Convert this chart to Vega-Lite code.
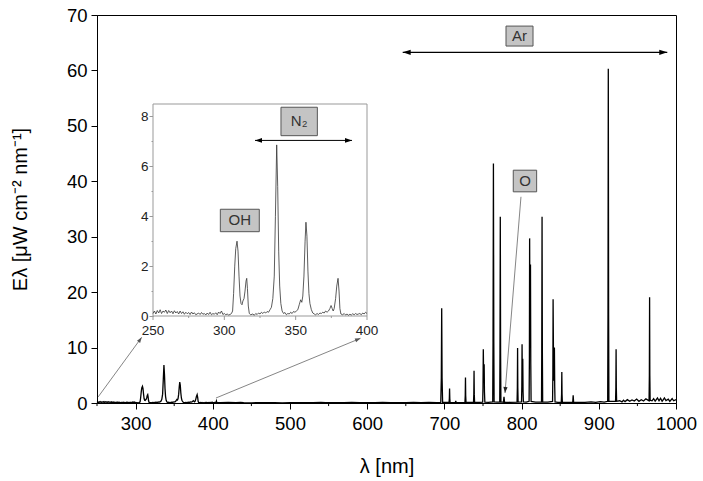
{
  "$schema": "https://vega.github.io/schema/vega-lite/v6.json",
  "width": 579,
  "height": 388,
  "autosize": {"type": "none"},
  "padding": {"left": 97, "top": 15, "right": 27, "bottom": 78},
  "background": "white",
  "config": {
    "font": "Liberation Sans",
    "view": {"stroke": "black", "strokeWidth": 1},
    "axis": {"grid": false, "labelOverlap": false, "domainColor": "black", "tickColor": "black", "labelColor": "black", "titleColor": "black", "titleFontWeight": "normal"}
  },
  "datasets": {
    "spec": [
      {"l":250,"e":0.1},{"l":251,"e":0.2},{"l":252,"e":0.08},{"l":253,"e":0.22},{"l":254,"e":0.12},{"l":255,"e":0.25},{"l":256,"e":0.1},{"l":257,"e":0.2},{"l":258,"e":0.15},{"l":259,"e":0.24},{"l":260,"e":0.1},{"l":261,"e":0.22},{"l":262,"e":0.13},{"l":263,"e":0.2},{"l":264,"e":0.09},{"l":265,"e":0.21},{"l":266,"e":0.12},{"l":267,"e":0.18},{"l":268,"e":0.08},{"l":269,"e":0.2},{"l":270,"e":0.1},{"l":271,"e":0.17},{"l":272,"e":0.07},{"l":273,"e":0.15},{"l":274,"e":0.09},{"l":275,"e":0.14},{"l":276,"e":0.06},{"l":277,"e":0.16},{"l":278,"e":0.08},{"l":279,"e":0.13},{"l":280,"e":0.05},{"l":282,"e":0.12},{"l":283,"e":0.06},{"l":284,"e":0.14},{"l":285,"e":0.07},{"l":286,"e":0.1},{"l":287,"e":0.04},{"l":288,"e":0.12},{"l":289,"e":0.06},{"l":290,"e":0.15},{"l":291,"e":0.05},{"l":292,"e":0.1},{"l":293,"e":0.07},{"l":294,"e":0.13},{"l":295,"e":0.05},{"l":296,"e":0.16},{"l":297,"e":0.1},{"l":298,"e":0.2},{"l":299,"e":0.06},{"l":300,"e":0.1},{"l":301,"e":0.05},{"l":302,"e":0.08},{"l":303,"e":0.04},{"l":304,"e":0.06},{"l":305,"e":0.1},
      {"l":305.8,"e":0.2},{"l":306.5,"e":0.9},{"l":307.3,"e":2.0},{"l":308,"e":2.7},{"l":308.9,"e":3.0},{"l":309.6,"e":2.6},{"l":310.3,"e":1.6},{"l":311,"e":0.8},{"l":311.7,"e":0.5},{"l":312.4,"e":0.45},{"l":313,"e":0.6},{"l":313.8,"e":0.7},{"l":314.5,"e":1.0},{"l":315.2,"e":1.4},{"l":315.7,"e":1.51},{"l":316.2,"e":1.1},{"l":316.8,"e":0.4},{"l":317.5,"e":0.1},{"l":318.5,"e":0.05},
      {"l":320,"e":0.08},{"l":321,"e":0.03},{"l":322,"e":0.1},{"l":323,"e":0.06},{"l":324,"e":0.12},{"l":325,"e":0.08},{"l":326,"e":0.15},{"l":327,"e":0.1},{"l":328,"e":0.16},{"l":329,"e":0.12},{"l":330,"e":0.18},{"l":331,"e":0.15},{"l":332,"e":0.25},{"l":333,"e":0.35},{"l":334,"e":0.7},{"l":335,"e":1.6},{"l":335.8,"e":4.0},{"l":336.7,"e":6.86},{"l":337.4,"e":5.2},{"l":338.1,"e":2.6},{"l":338.8,"e":1.2},{"l":339.6,"e":0.5},{"l":340.5,"e":0.2},{"l":341.5,"e":0.1},{"l":342.5,"e":0.14},{"l":343.5,"e":0.05},{"l":344.5,"e":0.1},{"l":345.5,"e":0.08},{"l":346.5,"e":0.15},{"l":347.5,"e":0.1},{"l":348.5,"e":0.18},{"l":349.5,"e":0.15},{"l":350.5,"e":0.2},{"l":351.5,"e":0.25},{"l":352.5,"e":0.45},{"l":353.5,"e":0.65},{"l":354.3,"e":0.55},{"l":355,"e":0.8},{"l":355.8,"e":1.6},{"l":356.6,"e":3.0},{"l":357.2,"e":3.76},{"l":357.9,"e":3.2},{"l":358.6,"e":1.8},{"l":359.3,"e":0.9},{"l":360,"e":0.5},{"l":361,"e":0.25},{"l":362,"e":0.12},{"l":363,"e":0.08},{"l":364,"e":0.05},{"l":365,"e":0.1},{"l":366,"e":0.06},{"l":367,"e":0.12},{"l":368,"e":0.1},{"l":369,"e":0.15},{"l":370,"e":0.12},{"l":371,"e":0.2},{"l":372,"e":0.15},{"l":373,"e":0.2},{"l":374,"e":0.3},{"l":374.8,"e":0.42},{"l":375.6,"e":0.3},{"l":376.3,"e":0.2},{"l":377,"e":0.3},{"l":378,"e":0.7},{"l":378.8,"e":1.2},{"l":379.7,"e":1.51},{"l":380.4,"e":1.0},{"l":381,"e":0.3},{"l":381.7,"e":0.08},{"l":383,"e":0.05},{"l":384,"e":0.1},{"l":385,"e":0.04},{"l":386,"e":0.08},{"l":387,"e":0.03},{"l":388,"e":0.07},{"l":389,"e":0.04},{"l":390,"e":0.09},{"l":391,"e":0.05},{"l":392,"e":0.1},{"l":393,"e":0.06},{"l":394,"e":0.08},{"l":395,"e":0.1},{"l":396,"e":0.05},{"l":397,"e":0.12},{"l":398,"e":0.08},{"l":399,"e":0.15},{"l":400,"e":0.1},
      {"l":401,"e":0.08},{"l":403,"e":0.1},{"l":404.2,"e":0.1},{"l":404.7,"e":0.35},{"l":405.2,"e":0.08},{"l":410,"e":0.05},{"l":420,"e":0.1},{"l":430,"e":0.05},{"l":435.8,"e":0.1},{"l":440,"e":0.06},{"l":450,"e":0.04},{"l":460,"e":0.07},{"l":470,"e":0.05},{"l":480,"e":0.08},{"l":490,"e":0.04},{"l":500,"e":0.07},{"l":510,"e":0.05},{"l":520,"e":0.08},{"l":530,"e":0.06},{"l":540,"e":0.1},{"l":546,"e":0.08},{"l":550,"e":0.05},{"l":560,"e":0.08},{"l":570,"e":0.05},{"l":580,"e":0.1},{"l":590,"e":0.06},{"l":600,"e":0.08},{"l":610,"e":0.05},{"l":620,"e":0.1},{"l":630,"e":0.06},{"l":640,"e":0.08},{"l":650,"e":0.05},{"l":660,"e":0.1},{"l":670,"e":0.06},{"l":680,"e":0.1},{"l":690,"e":0.08},
      {"l":695.3,"e":0.1},{"l":696.0,"e":4.5},{"l":696.5,"e":17.1},{"l":697.0,"e":4.5},{"l":697.7,"e":0.1},{"l":702,"e":0.1},
      {"l":706.0,"e":0.1},{"l":706.4,"e":0.8},{"l":706.7,"e":2.6},{"l":707.0,"e":0.8},{"l":707.4,"e":0.1},{"l":711,"e":0.08},
      {"l":714.2,"e":0.1},{"l":714.7,"e":0.4},{"l":715.2,"e":0.1},{"l":720,"e":0.08},
      {"l":726.6,"e":0.1},{"l":727.0,"e":1.3},{"l":727.3,"e":4.6},{"l":727.6,"e":1.3},{"l":728.0,"e":0.1},{"l":733,"e":0.1},
      {"l":737.7,"e":0.1},{"l":738.1,"e":1.6},{"l":738.4,"e":5.8},{"l":738.7,"e":1.6},{"l":739.1,"e":0.1},{"l":745,"e":0.1},
      {"l":749.6,"e":0.15},{"l":750.0,"e":2.8},{"l":750.4,"e":9.7},{"l":750.9,"e":4.0},{"l":751.5,"e":7.0},{"l":751.9,"e":2.0},{"l":752.4,"e":0.15},{"l":757,"e":0.12},
      {"l":762.6,"e":0.2},{"l":763.0,"e":11},{"l":763.5,"e":43.2},{"l":764.0,"e":11},{"l":764.4,"e":0.2},{"l":768,"e":0.15},
      {"l":771.7,"e":0.2},{"l":772.0,"e":9},{"l":772.4,"e":33.6},{"l":772.8,"e":9},{"l":773.2,"e":0.2},
      {"l":776.5,"e":0.15},{"l":777.2,"e":1.1},{"l":777.9,"e":0.15},{"l":785,"e":0.12},
      {"l":794.1,"e":0.15},{"l":794.5,"e":2.7},{"l":794.8,"e":9.9},{"l":795.1,"e":2.7},{"l":795.5,"e":0.15},
      {"l":799.9,"e":0.2},{"l":800.3,"e":3.0},{"l":800.6,"e":10.6},{"l":801.0,"e":4.0},{"l":801.5,"e":8.0},{"l":801.9,"e":2.0},{"l":802.3,"e":0.2},{"l":806,"e":0.15},
      {"l":809.7,"e":0.3},{"l":810.1,"e":8.0},{"l":810.4,"e":29.7},{"l":810.9,"e":10},{"l":811.5,"e":25},{"l":811.9,"e":7},{"l":812.3,"e":0.3},{"l":818,"e":0.15},
      {"l":825.8,"e":0.2},{"l":826.1,"e":9},{"l":826.5,"e":33.6},{"l":826.9,"e":9},{"l":827.3,"e":0.2},{"l":834,"e":0.15},
      {"l":840.1,"e":0.3},{"l":840.5,"e":5},{"l":840.8,"e":18.7},{"l":841.5,"e":4},{"l":842.5,"e":10},{"l":842.9,"e":3},{"l":843.3,"e":0.2},{"l":847,"e":0.12},
      {"l":851.4,"e":0.15},{"l":851.8,"e":1.6},{"l":852.1,"e":5.6},{"l":852.4,"e":1.6},{"l":852.8,"e":0.15},{"l":860,"e":0.1},
      {"l":866.2,"e":0.1},{"l":866.8,"e":1.4},{"l":867.4,"e":0.1},
      {"l":875,"e":0.12},{"l":882,"e":0.1},{"l":890,"e":0.2},{"l":896,"e":0.12},{"l":902,"e":0.25},{"l":907,"e":0.15},
      {"l":911.5,"e":0.3},{"l":911.9,"e":16},{"l":912.3,"e":60.3},{"l":912.7,"e":16},{"l":913.1,"e":0.3},{"l":917,"e":0.3},
      {"l":921.7,"e":0.3},{"l":922.1,"e":2.7},{"l":922.4,"e":9.7},{"l":922.7,"e":2.7},{"l":923.1,"e":0.3},
      {"l":927,"e":0.4},{"l":930,"e":0.2},{"l":932,"e":0.5},{"l":934,"e":0.25},{"l":937,"e":0.6},{"l":940,"e":0.3},{"l":943,"e":0.55},{"l":946,"e":0.35},{"l":949,"e":0.7},{"l":952,"e":0.3},{"l":955,"e":0.6},{"l":958,"e":0.35},{"l":961,"e":0.75},
      {"l":965.1,"e":0.4},{"l":965.5,"e":5},{"l":965.8,"e":19.1},{"l":966.1,"e":5},{"l":966.5,"e":0.5},
      {"l":969,"e":0.4},{"l":971,"e":0.8},{"l":973,"e":0.35},{"l":976,"e":0.9},{"l":978,"e":0.4},{"l":980,"e":0.85},{"l":982,"e":0.3},{"l":985,"e":0.9},{"l":987,"e":0.45},{"l":990,"e":0.7},{"l":992,"e":0.3},{"l":995,"e":0.8},{"l":997,"e":0.4},{"l":1000,"e":0.6}
    ],
    "mainBoxes": [
      {"x1":779.8,"x2":814.8,"y1":64.4,"y2":68.0,"t":"Ar","cx":797.3,"cy":66.2},
      {"x1":789.2,"x2":819.5,"y1":38.1,"y2":42.0,"t":"O","cx":804.35,"cy":40.05}
    ],
    "insetBoxes": [
      {"x1":297.2,"x2":324.5,"y1":3.38,"y2":4.28,"t":"OH","cx":310.85,"cy":3.83},
      {"x1":339.7,"x2":365.2,"y1":7.23,"y2":8.37,"t":"N₂","cx":352.45,"cy":7.8}
    ],
    "mainMinorX": [{"l":250},{"l":350},{"l":450},{"l":550},{"l":650},{"l":750},{"l":850},{"l":950}],
    "insetMajor": [{"l":250},{"l":300},{"l":350},{"l":400}],
    "insetMinor": [{"l":275},{"l":325},{"l":375}]
  },
  "layer": [
    {
      "layer": [
        {
          "data": {"name": "spec"},
          "mark": {"type": "line", "color": "black", "strokeWidth": 1.3},
          "encoding": {
            "x": {"field": "l", "type": "quantitative", "scale": {"domain": [250, 1000], "nice": false, "zero": false},
              "axis": {"orient": "bottom", "values": [300,400,500,600,700,800,900,1000],
                "tickSize": 6, "format": "d", "labelFontSize": 18.5, "labelPadding": 5, "labelFlush": false, "labelOverlap": false,
                "title": "λ [nm]", "titleFontSize": 20, "titlePadding": 24}},
            "y": {"field": "e", "type": "quantitative", "scale": {"domain": [0, 70], "nice": false, "zero": false},
              "axis": {"orient": "left", "values": [0,5,10,15,20,25,30,35,40,45,50,55,60,65,70],
                "labelExpr": "datum.value % 10 === 0 ? datum.label : ''",
                "tickSize": {"condition": {"test": "datum.value % 10 !== 0", "value": 3}, "value": 6},
                "format": "d", "labelFontSize": 18.5, "labelPadding": 4, "labelFlush": false, "labelOverlap": false,
                "title": "Eλ [μW cm⁻² nm⁻¹]", "titleFontSize": 20, "titlePadding": 36}}
          }
        },
        {
          "data": {"name": "mainMinorX"},
          "mark": {"type": "rule", "color": "black", "strokeWidth": 1},
          "encoding": {"x": {"field": "l", "type": "quantitative"}, "y": {"datum": 0, "type": "quantitative"}, "y2": {"datum": -0.55}}
        },
        {
          "data": {"values": [{"x1":646,"y1":63.27,"x2":988.7,"y2":63.27}]},
          "mark": {"type": "rule", "color": "black", "strokeWidth": 1.2},
          "encoding": {"x": {"field": "x1", "type": "quantitative"}, "y": {"field": "y1", "type": "quantitative"}, "x2": {"field": "x2"}, "y2": {"field": "y2"}}
        },
        {
          "data": {"values": [{"x1":251.5,"y1":1.1,"x2":307.9,"y2":11.85},{"x1":404.1,"y1":0.9,"x2":591.3,"y2":11.67},{"x1":799.2,"y1":37.2,"x2":778.5,"y2":1.8}]},
          "mark": {"type": "rule", "color": "#777777", "strokeWidth": 0.9},
          "encoding": {"x": {"field": "x1", "type": "quantitative"}, "y": {"field": "y1", "type": "quantitative"}, "x2": {"field": "x2"}, "y2": {"field": "y2"}}
        },
        {
          "data": {"values": [{"l":646,"e":63.27}]},
          "mark": {"type": "point", "shape": "M0,0L-1,-0.33L-1,0.33Z", "filled": true, "size": 256, "angle": 180, "color": "black", "opacity": 1},
          "encoding": {"x": {"field": "l", "type": "quantitative"}, "y": {"field": "e", "type": "quantitative"}}
        },
        {
          "data": {"values": [{"l":988.7,"e":63.27}]},
          "mark": {"type": "point", "shape": "M0,0L-1,-0.33L-1,0.33Z", "filled": true, "size": 256, "angle": 0, "color": "black", "opacity": 1},
          "encoding": {"x": {"field": "l", "type": "quantitative"}, "y": {"field": "e", "type": "quantitative"}}
        },
        {
          "data": {"values": [{"l":307.9,"e":11.85}]},
          "mark": {"type": "point", "shape": "M0,0L-1,-0.35L-1,0.35Z", "filled": true, "size": 121, "angle": -55.2, "color": "#555555", "opacity": 1},
          "encoding": {"x": {"field": "l", "type": "quantitative"}, "y": {"field": "e", "type": "quantitative"}}
        },
        {
          "data": {"values": [{"l":591.3,"e":11.67}]},
          "mark": {"type": "point", "shape": "M0,0L-1,-0.35L-1,0.35Z", "filled": true, "size": 121, "angle": -22, "color": "#555555", "opacity": 1},
          "encoding": {"x": {"field": "l", "type": "quantitative"}, "y": {"field": "e", "type": "quantitative"}}
        },
        {
          "data": {"values": [{"l":778.5,"e":1.8}]},
          "mark": {"type": "point", "shape": "M0,0L-1,-0.35L-1,0.35Z", "filled": true, "size": 144, "angle": 94.6, "color": "#222222", "opacity": 1},
          "encoding": {"x": {"field": "l", "type": "quantitative"}, "y": {"field": "e", "type": "quantitative"}}
        },
        {
          "data": {"name": "mainBoxes"},
          "mark": {"type": "rect", "fill": "#c4c4c4", "stroke": "#555555", "strokeWidth": 1},
          "encoding": {"x": {"field": "x1", "type": "quantitative"}, "x2": {"field": "x2"}, "y": {"field": "y1", "type": "quantitative"}, "y2": {"field": "y2"}}
        },
        {
          "data": {"name": "mainBoxes"},
          "mark": {"type": "text", "fontSize": 15, "color": "#333333", "align": "center", "baseline": "middle"},
          "encoding": {"x": {"field": "cx", "type": "quantitative"}, "y": {"field": "cy", "type": "quantitative"}, "text": {"field": "t"}}
        }
      ]
    },
    {
      "layer": [
        {
          "data": {"values": [{"x1":250,"x2":400,"y1":0,"y2":8.5}]},
          "mark": {"type": "rect", "fill": "white", "stroke": "#999999", "strokeWidth": 1},
          "encoding": {
            "x": {"field": "x1", "type": "quantitative", "scale": {"domain": [250, 400], "range": [56, 270], "nice": false, "zero": false}, "axis": null},
            "x2": {"field": "x2"},
            "y": {"field": "y1", "type": "quantitative", "scale": {"domain": [0, 8.5], "range": [301, 89], "nice": false, "zero": false},
              "axis": {"orient": "left", "offset": -56, "values": [0,1,2,3,4,5,6,7,8],
                "labelExpr": "datum.value % 2 === 0 ? datum.label : ''",
                "tickSize": {"condition": {"test": "datum.value % 2 !== 0", "value": 2}, "value": 4},
                "format": "d", "labelFontSize": 13.5, "labelPadding": 1, "labelFlush": false, "labelOverlap": false,
                "domainColor": "#999999", "tickColor": "#999999", "labelColor": "#222222", "title": null}},
            "y2": {"field": "y2"}
          }
        },
        {
          "data": {"name": "insetMajor"},
          "mark": {"type": "rule", "color": "#999999", "strokeWidth": 1},
          "encoding": {"x": {"field": "l", "type": "quantitative", "axis": null}, "y": {"datum": 0, "type": "quantitative"}, "y2": {"datum": -0.16}}
        },
        {
          "data": {"name": "insetMinor"},
          "mark": {"type": "rule", "color": "#999999", "strokeWidth": 1},
          "encoding": {"x": {"field": "l", "type": "quantitative", "axis": null}, "y": {"datum": 0, "type": "quantitative"}, "y2": {"datum": -0.08}}
        },
        {
          "data": {"name": "insetMajor"},
          "mark": {"type": "text", "fontSize": 13.5, "color": "#222222", "align": "center", "baseline": "top", "dy": 8},
          "encoding": {"x": {"field": "l", "type": "quantitative", "axis": null}, "y": {"datum": 0, "type": "quantitative"}, "text": {"field": "l", "type": "quantitative", "format": "d"}}
        },
        {
          "data": {"name": "spec"},
          "transform": [{"filter": "datum.l <= 400"}],
          "mark": {"type": "line", "color": "#333333", "strokeWidth": 0.8},
          "encoding": {
            "x": {"field": "l", "type": "quantitative", "scale": {"domain": [250, 400], "range": [56, 270], "nice": false, "zero": false}, "axis": null},
            "y": {"field": "e", "type": "quantitative", "scale": {"domain": [0, 8.5], "range": [301, 89], "nice": false, "zero": false}}
          }
        },
        {
          "data": {"values": [{"x1":321.5,"y1":7.04,"x2":389.5,"y2":7.04}]},
          "mark": {"type": "rule", "color": "black", "strokeWidth": 1},
          "encoding": {"x": {"field": "x1", "type": "quantitative", "axis": null}, "y": {"field": "y1", "type": "quantitative"}, "x2": {"field": "x2"}, "y2": {"field": "y2"}}
        },
        {
          "data": {"values": [{"l":321.5,"e":7.04}]},
          "mark": {"type": "point", "shape": "M0,0L-1,-0.33L-1,0.33Z", "filled": true, "size": 196, "angle": 180, "color": "black", "opacity": 1},
          "encoding": {"x": {"field": "l", "type": "quantitative", "axis": null}, "y": {"field": "e", "type": "quantitative"}}
        },
        {
          "data": {"values": [{"l":389.5,"e":7.04}]},
          "mark": {"type": "point", "shape": "M0,0L-1,-0.33L-1,0.33Z", "filled": true, "size": 196, "angle": 0, "color": "black", "opacity": 1},
          "encoding": {"x": {"field": "l", "type": "quantitative", "axis": null}, "y": {"field": "e", "type": "quantitative"}}
        },
        {
          "data": {"name": "insetBoxes"},
          "mark": {"type": "rect", "fill": "#c4c4c4", "stroke": "#555555", "strokeWidth": 1},
          "encoding": {"x": {"field": "x1", "type": "quantitative", "axis": null}, "x2": {"field": "x2"}, "y": {"field": "y1", "type": "quantitative"}, "y2": {"field": "y2"}}
        },
        {
          "data": {"name": "insetBoxes"},
          "mark": {"type": "text", "fontSize": 15, "color": "#333333", "align": "center", "baseline": "middle"},
          "encoding": {"x": {"field": "cx", "type": "quantitative", "axis": null}, "y": {"field": "cy", "type": "quantitative"}, "text": {"field": "t"}}
        }
      ]
    }
  ],
  "resolve": {"scale": {"x": "independent", "y": "independent"}, "axis": {"x": "independent", "y": "independent"}}
}
